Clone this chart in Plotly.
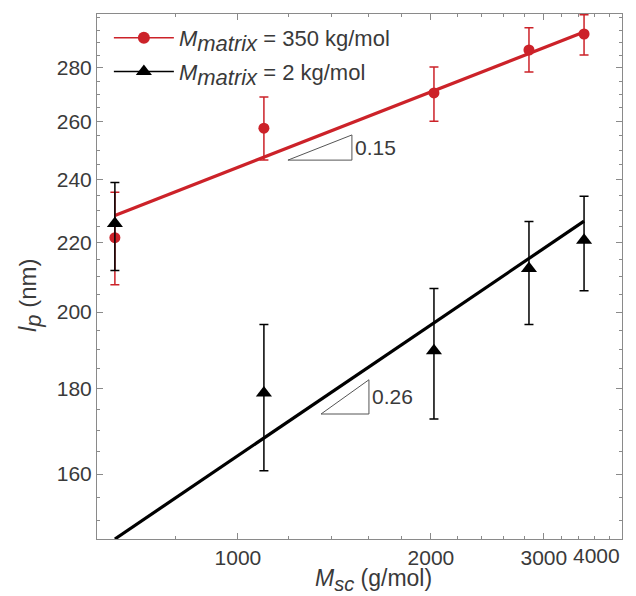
import numpy as np
import plotly.graph_objects as go

# ---- data ----
msc = [643, 1098, 2022, 2844, 3466]                 # g/mol
lp_350 = [221.6, 257.7, 270.5, 287.0, 293.4]        # nm, M_matrix = 350 kg/mol
lp_350_hi = [235.9, 269.0, 280.4, 295.9, 301.3]
lp_350_lo = [207.7, 246.6, 260.2, 278.4, 285.0]
lp_2 = [226.0, 178.9, 189.6, 212.4, 220.8]          # nm, M_matrix = 2 kg/mol
lp_2_hi = [239.1, 196.6, 206.6, 226.6, 234.6]
lp_2_lo = [211.8, 160.7, 172.6, 196.6, 206.0]

# power-law fits  lp = A * (Msc/643)^b
fit_350 = dict(A=228.5, b=0.15)
fit_2 = dict(A=146.3, b=0.26)

# slope triangles and labels
tri_350 = dict(x=[1197, 1506, 1506, 1197], y=[246.6, 246.6, 255.3, 246.6], label="0.15")
tri_2 = dict(x=[1348, 1601, 1601, 1348], y=[173.8, 173.8, 182.2, 173.8], label="0.26")

x_ticks = [1000, 2000, 3000]
y_ticks = [160, 180, 200, 220, 240, 260, 280]
x_minor = [800, 1200, 1400, 1600, 1800, 2200, 2400, 2600, 2800, 3200, 3400, 3600, 3800]
y_minor = [v for v in range(150, 305, 5) if v % 20 != 0] + [300]

RED = "#cc2229"
BLACK = "#000000"
GREY = "#8a8a8a"
TXT = "#3a3a3a"
FONT = "Liberation Sans"

def err(v, hi, lo):
    return [h - x for h, x in zip(hi, v)], [x - l for l, x in zip(lo, v)]

def sub(s, size):
    return f'<sub><span style="font-size:{size}px">{s}</span></sub>'

fig = go.Figure()

xf = np.array([msc[0], msc[-1]], dtype=float)
for fit, col in [(fit_350, RED), (fit_2, BLACK)]:
    fig.add_trace(go.Scatter(x=xf, y=fit["A"] * (xf / msc[0]) ** fit["b"], mode="lines",
                             line=dict(color=col, width=3.2), showlegend=False))

for tri in (tri_350, tri_2):
    fig.add_trace(go.Scatter(x=tri["x"], y=tri["y"], mode="lines",
                             line=dict(color="#555555", width=1), showlegend=False))
    fig.add_annotation(x=np.log10(tri["x"][1]), y=np.log10((tri["y"][0] * tri["y"][2]) ** 0.5),
                       text=tri["label"], showarrow=False, xanchor="left", xshift=1,
                       font=dict(family=FONT, size=21, color=TXT))

ep, em = err(lp_350, lp_350_hi, lp_350_lo)
fig.add_trace(go.Scatter(x=msc, y=lp_350, mode="markers",
                         marker=dict(symbol="circle", size=11, color=RED),
                         error_y=dict(type="data", symmetric=False, array=ep, arrayminus=em,
                                      color=RED, thickness=1.5, width=4.5),
                         showlegend=False, cliponaxis=False))
ep, em = err(lp_2, lp_2_hi, lp_2_lo)
fig.add_trace(go.Scatter(x=msc, y=lp_2, mode="markers",
                         marker=dict(symbol="triangle-up", size=14, color=BLACK),
                         error_y=dict(type="data", symmetric=False, array=ep, arrayminus=em,
                                      color=BLACK, thickness=1.5, width=4.5),
                         showlegend=False, cliponaxis=False))

# legend entries (line + marker)
fig.add_trace(go.Scatter(x=[None], y=[None], mode="lines+markers", legendgroup="a",
                         line=dict(color=RED, width=1.5),
                         marker=dict(symbol="circle", size=12, color=RED),
                         name=f"<i>M{sub('matrix', 22)}</i> = 350 kg/mol"))
fig.add_trace(go.Scatter(x=[None], y=[None], mode="lines+markers", legendgroup="b",
                         line=dict(color=BLACK, width=1.5),
                         marker=dict(symbol="triangle-up", size=14, color=BLACK),
                         name=f"<i>M{sub('matrix', 22)}</i> = 2 kg/mol"))

axis_common = dict(type="log", showgrid=False, zeroline=False, showline=True, linecolor=GREY,
                   linewidth=1, mirror="ticks", ticks="inside", ticklen=6, tickcolor=GREY,
                   automargin=False,
                   tickfont=dict(family=FONT, size=21, color=TXT))

W, H = 636, 596
L, R, T, B = 97, 14, 14, 57
pw, ph = W - L - R, H - T - B

fig.update_layout(
    width=W, height=H,
    margin=dict(l=L, r=R, t=T, b=B),
    plot_bgcolor="white", paper_bgcolor="white",
    font=dict(family=FONT, color=TXT),
    xaxis=dict(**axis_common, range=[np.log10(603), np.log10(3972)],
               tickmode="array", tickvals=x_ticks, ticktext=[str(v) for v in x_ticks],
               minor=dict(tickmode="array", tickvals=x_minor, ticks="inside", ticklen=3,
                          tickcolor=GREY)),
    yaxis=dict(**axis_common, range=[np.log10(146.3), np.log10(301.6)],
               tickmode="array", tickvals=y_ticks, ticktext=[str(v) for v in y_ticks],
               minor=dict(tickmode="array", tickvals=y_minor, ticks="inside", ticklen=3,
                          tickcolor=GREY)),
    legend=dict(x=0.015 + 4 / pw, y=1.0 - 3 / ph, xanchor="left", yanchor="top",
                bgcolor="rgba(0,0,0,0)",
                font=dict(family=FONT, size=22, color=TXT), itemwidth=60,
                tracegroupgap=2, traceorder="grouped"),
    showlegend=True,
)

# axis titles
fig.add_annotation(x=(373 - L) / pw, y=-(580 - (H - B)) / ph, xref="paper", yref="paper",
                   text=f"<i>M{sub('sc', 20)}</i> (g/mol)", showarrow=False,
                   xanchor="center", yanchor="middle",
                   font=dict(family=FONT, size=23, color=TXT))
fig.add_annotation(x=-(L - 30) / pw, y=((H - B) - 295) / ph, xref="paper", yref="paper",
                   text=f"<i>l{sub('p', 22)}</i> (nm)", showarrow=False, textangle=-90,
                   xanchor="center", yanchor="middle",
                   font=dict(family=FONT, size=24, color=TXT))

# 4000 label kept inside the frame, as in the reference
fig.add_annotation(x=1.0, y=0, xref="paper", yref="paper", yanchor="top", xanchor="right",
                   yshift=-3, text="4000", showarrow=False,
                   font=dict(family=FONT, size=21, color=TXT))

fig.write_html("out.html", config={"displayModeBar": False},
               post_script="document.body.style.margin='0';")
